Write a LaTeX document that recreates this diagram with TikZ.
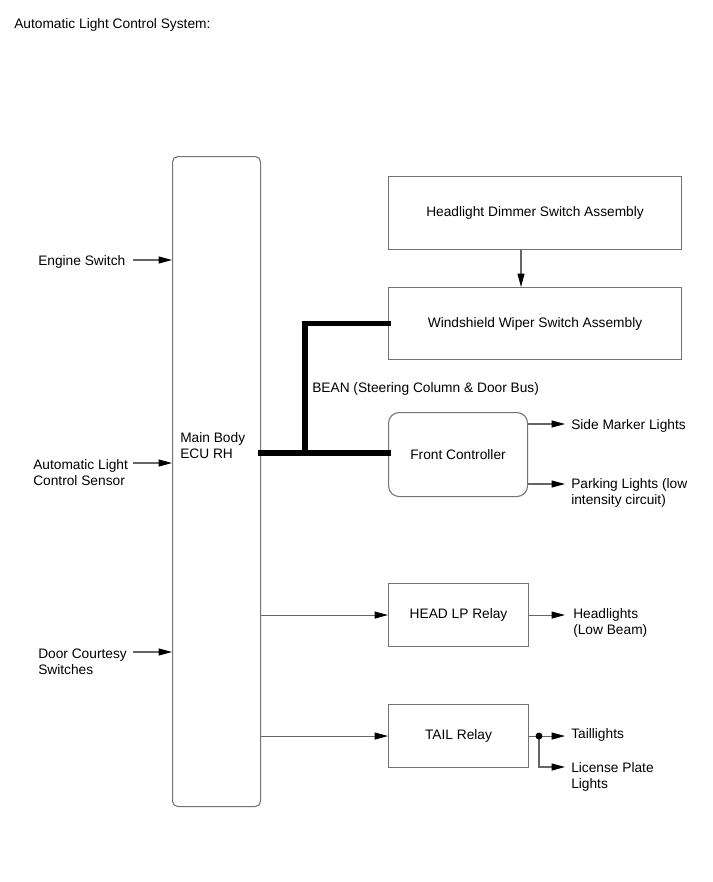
\documentclass[tikz,border=0pt]{standalone}
\usepackage{fontspec}
\setmainfont{Liberation Sans}
\usetikzlibrary{arrows.meta,calc}

\tikzset{
  unit/.style={draw=black!55, line width=0.8pt, inner sep=0pt, anchor=north west},
  lbl/.style={anchor=west, inner sep=0pt, align=left, font=\fontsize{10.3}{12}\selectfont},
  sig/.style={draw=black!60, line width=0.8pt, -{Triangle[length=10pt,width=5.2pt,color=black,fill=black]}},
  wire/.style={draw=black!60, line width=0.8pt},
  bus/.style={line width=4pt, line cap=rect}
}

\begin{document}
\begin{tikzpicture}[x=0.75pt,y=-0.75pt]
    \useasboundingbox (0,0) rectangle (713,882);
    \node[lbl] (title) at (14,25) {Automatic Light Control System:};

    % main ECU
    \node[unit, rounded corners=4pt, minimum width=66pt, minimum height=487.5pt] (ecu) at (172,156) {};
    \node[lbl] (ecutext) at (180,446) {Main Body\\ECU RH};

    % boxes on the right
    \node[unit, minimum width=219.75pt, minimum height=54.75pt, font=\fontsize{10.3}{12}\selectfont] (dimmer) at (388,176) {Headlight Dimmer Switch Assembly};
    \node[unit, minimum width=219.75pt, minimum height=54pt, font=\fontsize{10.3}{12}\selectfont] (wiper) at (388,287) {Windshield Wiper Switch Assembly};
    \node[unit, rounded corners=8pt, minimum width=104.25pt, minimum height=63pt, font=\fontsize{10.3}{12}\selectfont] (fc) at (388,412) {Front Controller};
    \node[unit, minimum width=105pt, minimum height=47.25pt, font=\fontsize{10.3}{12}\selectfont] (headlp) at (388,583) {HEAD LP Relay};
    \node[unit, minimum width=105pt, minimum height=47.25pt, font=\fontsize{10.3}{12}\selectfont] (tail) at (388,704) {TAIL Relay};

    \draw[sig] (dimmer.south -| 521,0) -- (wiper.north -| 521,0);

    % BEAN bus
    \coordinate (busjoin) at (305,453);
    \draw[bus] (ecu.east |- busjoin) -- (busjoin) -- (busjoin -| fc.west);
    \draw[bus] (busjoin) |- (wiper.west);
    \node[lbl] (bean) at (312,389) {BEAN (Steering Column \& Door Bus)};

    % inputs
    \node[lbl] (engsw) at (38,262) {Engine Switch};
    \node[lbl] (alcs) at (33,473) {Automatic Light\\Control Sensor};
    \node[lbl] (door) at (38,662) {Door Courtesy\\Switches};
    \coordinate (in1) at (133,260);
    \coordinate (in2) at (133,463);
    \coordinate (in3) at (133,652);
    \draw[sig] (in1) -- (in1 -| ecu.west);
    \draw[sig] (in2) -- (in2 -| ecu.west);
    \draw[sig] (in3) -- (in3 -| ecu.west);

    % ECU to relays
    \draw[sig] (ecu.east |- headlp.west) -- (headlp.west);
    \draw[sig] (ecu.east |- tail.west) -- (tail.west);

    % outputs
    \node[lbl] (side) at (571,426) {Side Marker Lights};
    \node[lbl] (park) at (571,493) {Parking Lights (low\\intensity circuit)};
    \node[lbl] (head) at (573,623) {Headlights\\(Low Beam)};
    \node[lbl] (taillt) at (571,735) {Taillights};
    \node[lbl] (lic) at (571,777) {License Plate\\Lights};
    \draw[sig] (fc.east |- 0,424) -- (565,424);
    \draw[sig] (fc.east |- 0,484) -- (565,484);
    \draw[sig] (headlp.east) -- (headlp.east -| 565,0);
    \coordinate (tdot) at (tail.east -| 539,0);
    \draw[wire] (tail.east) -- (tdot);
    \draw[sig] (tdot) -- (tdot -| 565,0);
    \draw[sig] (tdot) |- (565,767);
    \fill (tdot) circle (2.6pt);
\end{tikzpicture}
\end{document}
